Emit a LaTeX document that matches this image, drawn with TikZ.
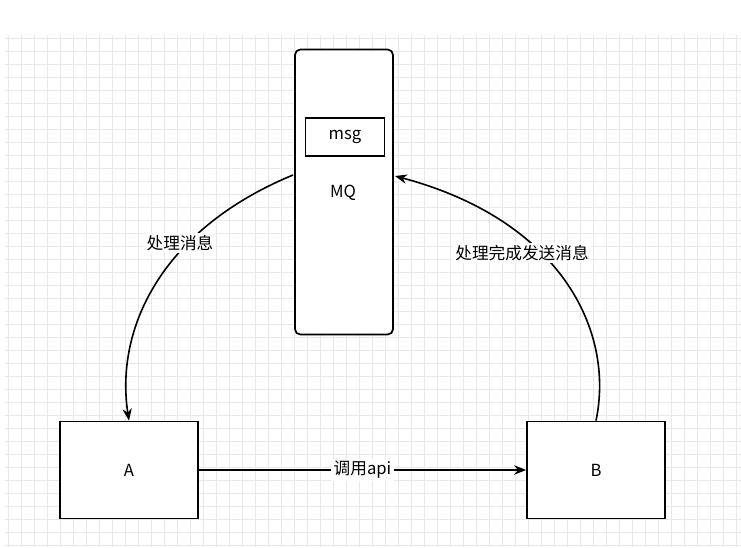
\documentclass[tikz,border=0pt]{standalone}
\usepackage{fontspec}
\setmainfont{Noto Sans CJK SC}
\usetikzlibrary{arrows.meta}
\begin{document}
\begin{tikzpicture}[x=0.75pt,y=-0.75pt,
  font=\fontsize{12.5}{15}\selectfont,
  box/.style={draw,line width=1.3pt,fill=white,inner sep=0},
  arr/.style={line width=1.2pt,-{Stealth[length=9pt,width=7pt]}},
  lbl/.style={fill=white,inner sep=2pt}]
\useasboundingbox (0,0) rectangle (741,547);
\fill[white] (0,0) rectangle (741,547);
\foreach \x in {8,21,...,741} \draw[gray!18,line width=0.4pt] (\x,35) -- (\x,547);
\foreach \y in {38,51,...,547} \draw[gray!18,line width=0.4pt] (5,\y) -- (741,\y);
\node[box,rounded corners=4pt,minimum width=98*0.75pt,minimum height=285*0.75pt] (mq) at (344,192) {};
\node[box,minimum width=79*0.75pt,minimum height=38*0.75pt] (msg) at (345,137) {msg};
\node (mql) at (343,193) {MQ};
\node[box,minimum width=138*0.75pt,minimum height=97*0.75pt] (a) at (129,470) {A};
\node[box,minimum width=138*0.75pt,minimum height=97*0.75pt] (b) at (596,470) {B};
\coordinate (ml) at (293,175);
\coordinate (mr) at (395,176);
\draw[arr] (a.east) -- node[lbl]{调用api} (b.west);
\draw[arr] (ml) .. controls (160,230) and (115,330) .. (a.north);
\node[lbl] at (180,243) {处理消息};
\draw[arr] (b.north) .. controls (615,330) and (560,220) .. (mr);
\node[lbl] at (522,253) {处理完成发送消息};
\end{tikzpicture}
\end{document}
